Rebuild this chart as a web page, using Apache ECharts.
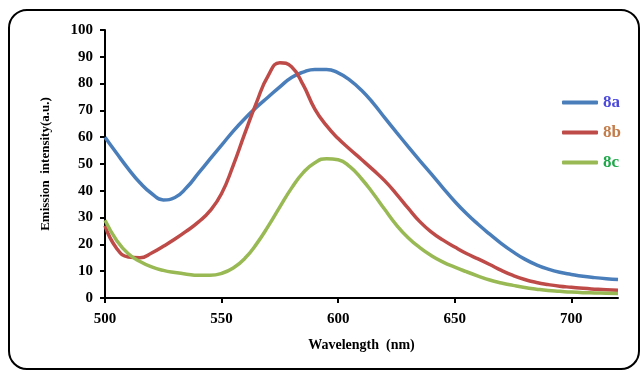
<!DOCTYPE html>
<html>
<head>
<meta charset="utf-8">
<script src="https://cdn.jsdelivr.net/npm/echarts@6/dist/echarts.min.js"></script>
<style>html,body{margin:0;padding:0;background:#fff}#c{width:641px;height:372px}</style>
</head>
<body>
<div id="c"></div>
<script>
var wavelengths = [500,505,510,515,520,525,530,535,540,545,550,555,560,565,570,575,580,585,590,595,600,605,610,615,620,625,630,635,640,645,650,655,660,665,670,675,680,685,690,695,700,705,710,715,720];
var intensity8a = [60,54,48.2,43,39,36.6,37.5,41.2,46.5,51.8,57,62.3,67,71.2,75,78.8,82.3,84.3,85.3,85.3,84,81.3,77.5,72.7,67.2,61.8,56.5,51.3,46.2,41,36,31.5,27.5,23.8,20.3,17.2,14.5,12.4,10.8,9.6,8.8,8.1,7.6,7.2,6.9];
var intensity8b = [27,18.5,15.3,15,16.8,19.3,22,25,28.3,32.5,39,49.5,61.5,73,83,87.8,86.3,79.5,70.5,64.3,59.5,55.5,51.7,47.8,43.7,38.8,33.5,28.5,24.6,21.6,19,16.6,14.6,12.5,10.3,8.4,6.9,5.8,5,4.4,4,3.6,3.3,3.05,2.9];
var intensity8c = [29,21.5,16.5,13.6,11.6,10.3,9.5,8.9,8.5,8.5,9.2,11.2,14.8,20.2,26.8,34,41,46.8,50.5,52,51.6,49,44.5,39,33,27.2,22.5,18.8,15.8,13.4,11.5,9.8,8.2,6.7,5.6,4.7,3.9,3.3,2.8,2.5,2.2,2,1.9,1.8,1.7];
var seriesNames = ['8a','8b','8c'];
var xTicks = [500,550,600,650,700];
var yTicks = [0,10,20,30,40,50,60,70,80,90,100];

function pairs(vals){ return wavelengths.map(function(w,i){ return [w, vals[i]]; }); }

var lineColors = ['#4a7ebb','#be4b48','#98b954'];
var legendTextColors = ['#4b48dc','#c47c4a','#1fa84a'];
var serif = '"Liberation Serif","Times New Roman",serif';

var chart = echarts.init(document.getElementById('c'), null, {renderer:'canvas'});
chart.setOption({
  animation: false,
  backgroundColor: '#fff',
  graphic: [{
    type: 'rect', z: -1,
    shape: {x: 9, y: 10, width: 630, height: 359, r: 18},
    style: {fill: 'none', stroke: '#000', lineWidth: 2}
  }],
  grid: {left: 105, right: 23, top: 30, bottom: 74},
  legend: {
    orient: 'vertical', left: 557, top: 89,
    icon: 'roundRect',
    itemWidth: 36, itemHeight: 4, itemGap: 13,
    data: seriesNames.map(function(n,i){ return {name: n, textStyle: {color: legendTextColors[i]}}; }),
    textStyle: {fontFamily: serif, fontWeight: 'bold', fontSize: 17, lineHeight: 16, padding: [0,0,0,0]}
  },
  xAxis: {
    type: 'value', min: 500, max: 720, interval: 50,
    name: 'Wavelength  (nm)', nameLocation: 'middle', nameGap: 40,
    nameTextStyle: {fontFamily: serif, fontWeight: 'bold', fontSize: 14, color: '#000'},
    axisLine: {lineStyle: {color: '#000', width: 2}},
    axisTick: {show: true, length: 5, inside: false, customValues: xTicks, lineStyle: {color: '#000', width: 2}},
    axisLabel: {customValues: xTicks, margin: 14, fontFamily: serif, fontWeight: 'bold', fontSize: 15, color: '#000'},
    splitLine: {show: false}
  },
  yAxis: {
    type: 'value', min: 0, max: 100, interval: 10,
    name: 'Emission  intensity(a.u.)', nameLocation: 'middle', nameGap: 53,
    nameTextStyle: {fontFamily: serif, fontWeight: 'bold', fontSize: 13, color: '#000'},
    axisLine: {show: true, lineStyle: {color: '#000', width: 2}},
    axisTick: {show: true, length: 5, customValues: yTicks, lineStyle: {color: '#000', width: 2}},
    axisLabel: {customValues: yTicks, margin: 12, fontFamily: serif, fontWeight: 'bold', fontSize: 15, color: '#000'},
    splitLine: {show: false}
  },
  series: [intensity8a, intensity8b, intensity8c].map(function(vals,i){
    return {
      name: seriesNames[i], type: 'line', smooth: 0.5, symbol: 'none',
      data: pairs(vals),
      lineStyle: {color: lineColors[i], width: 3.5},
      itemStyle: {color: lineColors[i]}
    };
  })
});
</script>
</body>
</html>
